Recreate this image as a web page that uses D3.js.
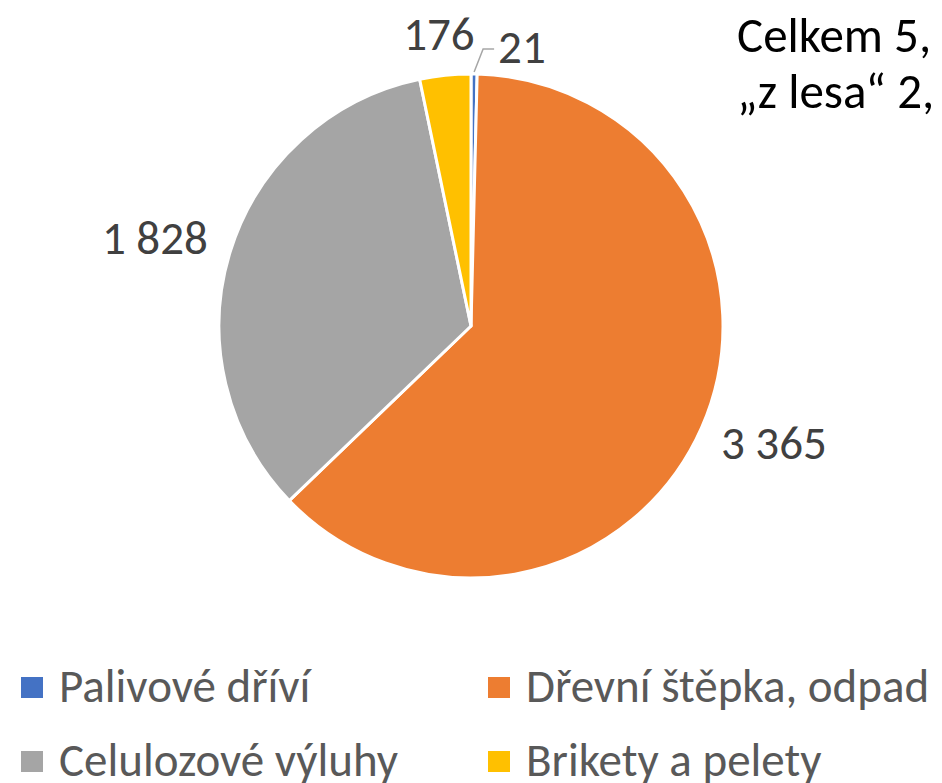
<!DOCTYPE html>
<html>
<head>
<meta charset="utf-8">
<script src="https://cdn.jsdelivr.net/npm/d3@7"></script>
<style>
    body { margin: 0; background: #fff; }
    svg { display: block; font-family: Carlito, Calibri, Lato, sans-serif; }
</style>
</head>
<body>
<div id="chart"></div>
<script>
// Data
const categories = ["Palivové dříví", "Dřevní štěpka, odpad", "Celulozové výluhy", "Brikety a pelety"];
const values = [21, 3365, 1828, 176];
const valueLabels = ["21", "3 365", "1 828", "176"];
const colors = ["#4472C4", "#ED7D31", "#A5A5A5", "#FFC000"];
const noteLines = ["Celkem 5,", "\u201Ez lesa\u201C 2,"];

const width = 942;
const height = 783;
const cx = 471;
const cy = 326;
const radius = 252;
const fontSize = 47;

const svg = d3.select("#chart")
    .append("svg")
        .attr("width", width)
        .attr("height", height);

const data = categories.map((c, i) => ({ category: c, value: values[i], label: valueLabels[i], color: colors[i] }));

const pie = d3.pie().sort(null).value(d => d.value);
const arc = d3.arc().innerRadius(0).outerRadius(radius);
const arcs = pie(data);

const plot = svg.append("g").attr("transform", `translate(${cx},${cy})`);

// Slices
plot.append("g")
    .selectAll("path")
    .data(arcs)
    .enter()
    .append("path")
        .attr("d", arc)
        .attr("fill", d => d.data.color)
        .attr("stroke", "#fff")
        .attr("stroke-width", 3)
        .attr("stroke-linejoin", "round");

// Value labels (outside end, box pushed away from centre)
const labelG = plot.append("g")
    .attr("font-size", fontSize)
    .attr("fill", "#404040");

arcs.forEach(d => {
    const mid = (d.startAngle + d.endAngle) / 2;
    const sin = Math.sin(mid), cos = Math.cos(mid);
    const small = (d.endAngle - d.startAngle) < 0.05;

    if (small) {
        // tiny slice: label moved aside with a leader line
        const p0 = [ (radius + 2) * sin, -(radius + 2) * cos ];
        const p1 = [ p0[0] + 9, p0[1] - 23 ];
        const p2 = [ p1[0] + 11, p1[1] ];
        plot.append("polyline")
            .attr("points", [p0, p1, p2].map(p => p.join(",")).join(" "))
            .attr("fill", "none")
            .attr("stroke", "#A6A6A6")
            .attr("stroke-width", 1.5);
        labelG.append("text")
            .attr("x", p2[0] + 4)
            .attr("y", p2[1] + 14)
            .text(d.data.label);
        return;
    }

    const rr = radius + 26;
    const t = labelG.append("text")
        .attr("text-anchor", "middle")
        .text(d.data.label);
    const w = t.node().getComputedTextLength();
    const h = 30;
    const x = rr * sin + (w / 2) * sin;
    const y = -rr * cos - (h / 2) * cos;
    t.attr("x", x).attr("y", y + h / 2);
});

// Note text at top right (runs past the edge)
svg.append("g")
    .attr("font-size", 49)
    .attr("fill", "#000")
    .selectAll("text")
    .data(noteLines)
    .enter()
    .append("text")
        .attr("x", 737)
        .attr("y", (d, i) => 52 + i * 56)
        .text(d => d);

// Legend
const legendX = d3.scaleOrdinal().domain([0, 1]).range([21, 488]);
const legend = svg.append("g").attr("id", "legend");
const items = legend.selectAll("g")
    .data(data)
    .enter()
    .append("g")
        .attr("transform", (d, i) => `translate(${legendX(i % 2)},${677 + Math.floor(i / 2) * 74})`);

items.append("rect")
    .attr("width", 22)
    .attr("height", 21)
    .attr("fill", d => d.color);

items.append("text")
    .attr("x", 38)
    .attr("y", 25)
    .attr("font-size", fontSize)
    .attr("fill", "#595959")
    .text(d => d.category);
</script>
</body>
</html>
